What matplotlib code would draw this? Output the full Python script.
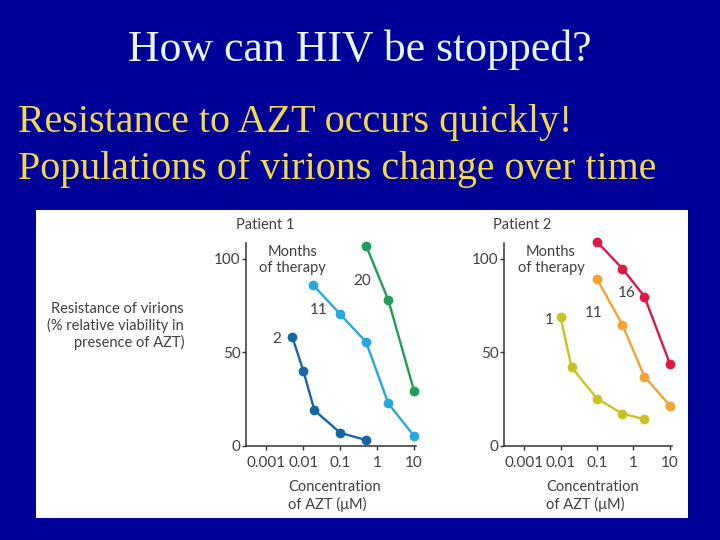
import matplotlib.pyplot as plt
import numpy as np

# Patient 1 (months of therapy: 2, 11, 20)
p1_x2 = [0.005, 0.01, 0.02, 0.1, 0.5]
p1_y2 = [58.5, 40.3, 19.1, 7.0, 3.2]
p1_x11 = [0.018, 0.1, 0.5, 2, 10]
p1_y11 = [86.3, 70.4, 55.6, 22.8, 5.3]
p1_x20 = [0.5, 2, 10]
p1_y20 = [107.1, 78.1, 29.4]

# Patient 2 (months of therapy: 1, 11, 16)
p2_x1 = [0.01, 0.02, 0.1, 0.5, 2]
p2_y1 = [69.0, 42.1, 25.3, 17.3, 14.3]
p2_x11 = [0.1, 0.5, 2, 10]
p2_y11 = [89.3, 64.7, 37.1, 21.6]
p2_x16 = [0.1, 0.5, 2, 10]
p2_y16 = [109.1, 94.8, 79.9, 43.9]

xticks = [0.001, 0.01, 0.1, 1, 10]
xticklabels = ['0.001', '0.01', '0.1', '1', '10']
yticks = [0, 50, 100]

bg = '#000099'
txt = '#404040'
font = 'Lato'

fig = plt.figure(figsize=(7.2, 5.4), dpi=100)
fig.patch.set_facecolor(bg)

# slide text
fig.text(0.5, 0.887, 'How can HIV be stopped?', ha='center', va='baseline',
         family='Liberation Serif', fontsize=31.5, color='#e6f6ff')
fig.text(0.025, 0.756, 'Resistance to AZT occurs quickly!', ha='left', va='baseline',
         family='Liberation Serif', fontsize=28.8, color='#f2d94a')
fig.text(0.025, 0.6694, 'Populations of virions change over time', ha='left', va='baseline',
         family='Liberation Serif', fontsize=28.8, color='#f2d94a')

# white panel
panel = fig.add_axes([0.05, 0.0407, 0.9056, 0.5704], zorder=-1)
panel.set_facecolor('white')
panel.set_xticks([])
panel.set_yticks([])
for s in panel.spines.values():
    s.set_visible(False)

ax1 = fig.add_axes([0.3417, 0.1741, 0.236, 0.3759])
ax2 = fig.add_axes([0.70, 0.1741, 0.233, 0.3759])

def style(ax):
    ax.set_facecolor('none')
    ax.set_xscale('log')
    ax.set_xlim(10 ** -3.55, 10 ** 1.05)
    ax.set_ylim(0, 108.5)
    ax.set_xticks(xticks)
    ax.set_xticklabels(xticklabels)
    ax.minorticks_off()
    ax.set_yticks(yticks)
    for s in ['top', 'right']:
        ax.spines[s].set_visible(False)
    for s in ['left', 'bottom']:
        ax.spines[s].set_color('#333333')
        ax.spines[s].set_linewidth(1.1)
    ax.tick_params(length=3, width=1, color='#333333', labelcolor=txt, labelsize=11)
    ax.tick_params(axis='y', pad=1)
    ax.tick_params(axis='x', pad=4)
    for lab in ax.get_xticklabels() + ax.get_yticklabels():
        lab.set_family(font)

def series(ax, x, y, c):
    ax.plot(x, y, '-o', color=c, lw=1.7, ms=6, clip_on=False)

def note(ax, x, y, s):
    ax.text(x, y, s, ha='center', va='center', fontsize=11, color=txt, family=font)

style(ax1)
series(ax1, p1_x2, p1_y2, '#1565a8')
series(ax1, p1_x11, p1_y11, '#29a8df')
series(ax1, p1_x20, p1_y20, '#1f9e55')
note(ax1, 0.00195, 57, '2')
note(ax1, 0.026, 72.7, '11')
note(ax1, 0.39, 88, '20')
ax1.text(0.005, 99.5, 'Months\nof therapy', ha='center', va='center', fontsize=10.5,
         color=txt, family=font, linespacing=1.15)
ax1.text(-0.06, 1.09, 'Patient 1', transform=ax1.transAxes, ha='left', va='center',
         fontsize=10.5, color=txt, family=font)

style(ax2)
series(ax2, p2_x1, p2_y1, '#c9c31f')
series(ax2, p2_x11, p2_y11, '#f4a232')
series(ax2, p2_x16, p2_y16, '#df1842')
note(ax2, 0.0049, 67.4, '1')
note(ax2, 0.079, 71, '11')
note(ax2, 0.65, 81.7, '16')
ax2.text(0.0055, 99.5, 'Months\nof therapy', ha='center', va='center', fontsize=10.5,
         color=txt, family=font, linespacing=1.15)
ax2.text(-0.065, 1.09, 'Patient 2', transform=ax2.transAxes, ha='left', va='center',
         fontsize=10.5, color=txt, family=font)

fig.text(0.2556, 0.3963, 'Resistance of virions\n(% relative viability in\npresence of AZT)',
         ha='right', va='center', fontsize=10.5, color=txt, family=font, linespacing=1.2)
fig.text(0.40, 0.0815, 'Concentration\nof AZT (\u03bcM)', ha='left', va='center',
         fontsize=10.5, color=txt, family=font, linespacing=1.25)
fig.text(0.758, 0.0815, 'Concentration\nof AZT (\u03bcM)', ha='left', va='center',
         fontsize=10.5, color=txt, family=font, linespacing=1.25)

fig.savefig('out.png', dpi=100, facecolor=bg)
